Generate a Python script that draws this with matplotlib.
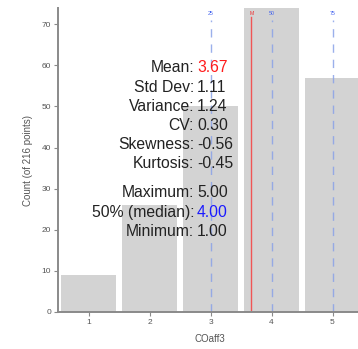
import matplotlib
matplotlib.use("Agg")
import matplotlib.pyplot as plt

# Histogram data for COaff3 (216 responses on a 1-5 scale)
categories = [1, 2, 3, 4, 5]
counts = [9, 26, 50, 74, 57]

# Summary statistics shown in the panel
stat_labels = ["Mean:", "Std Dev:", "Variance:", "CV:", "Skewness:", "Kurtosis:"]
stat_values = [3.67, 1.11, 1.24, 0.30, -0.56, -0.45]
range_labels = ["Maximum:", "50% (median):", "Minimum:"]
range_values = [5.00, 4.00, 1.00]

# Quartile markers
quartile_names = ["25", "50", "75"]
quartile_values = [3, 4, 5]
mean_value = stat_values[0]

W, H = 358, 349
fig = plt.figure(figsize=(W / 100, H / 100), dpi=100)
plt.rcParams["font.family"] = ["Liberation Sans", "DejaVu Sans"]

# Axes placed in pixel terms (left/bottom/right/top)
l, r, t, b = 58, 363, 8, 311.7
ax = fig.add_axes([l / W, 1 - b / H, (r - l) / W, (b - t) / H])

ax.bar(categories, counts, width=0.9, color="#d3d3d3", edgecolor="none", zorder=1)
ax.set_xlim(0.5, 5.5)
ax.set_ylim(0, max(counts))

for name, q in zip(quartile_names, quartile_values):
    ax.plot([q, q], [0, 71.0], color="#8aa2e8", lw=1.0, ls=(0, (6, 5)), alpha=0.85, zorder=2)
    ax.text(q, 72.6, name, color="#4060ee", fontsize=3.8, ha="center", va="center", zorder=3)
ax.plot([mean_value, mean_value], [0, 71.8], color="#f05555", lw=1.0, zorder=2)
ax.text(mean_value, 72.6, "M", color="#ee3333", fontsize=3.8, ha="center", va="center", zorder=3)

for s in ["top", "right"]:
    ax.spines[s].set_visible(False)
for s in ["left", "bottom"]:
    ax.spines[s].set_color("#8a8a8a")
    ax.spines[s].set_linewidth(1.4)

ax.set_xticks(categories)
ax.set_yticks(range(0, 71, 10))
ax.tick_params(axis="both", labelsize=6, colors="#8a8a8a", labelcolor="#555555",
               length=3, width=0.8, pad=2)

fig.text(28 / W, 1 - 160 / H, "Count (of 216 points)", rotation=90, fontsize=7,
         color="#555555", ha="center", va="center")
fig.text(210 / W, 1 - 339 / H, "COaff3", fontsize=7, color="#555555",
         ha="center", va="center")

# Statistics panel text
label_x = 194 / W
value_x = 197 / W
fs = 11.3
value_colors = ["#ff1a1a"] + ["#222222"] * 5
baselines = [72, 92, 111, 130, 149, 168]
for lab, val, yb, c in zip(stat_labels, stat_values, baselines, value_colors):
    fig.text(label_x, 1 - yb / H, lab, fontsize=fs, color="#222222", ha="right", va="baseline", zorder=5)
    fig.text(value_x, 1 - yb / H, f"{val:.2f}", fontsize=fs, color=c, ha="left", va="baseline", zorder=5)

range_colors = ["#222222", "#1a1aff", "#222222"]
baselines2 = [197, 217, 236]
for lab, val, yb, c in zip(range_labels, range_values, baselines2, range_colors):
    fig.text(label_x, 1 - yb / H, lab, fontsize=fs, color="#222222", ha="right", va="baseline", zorder=5)
    fig.text(value_x, 1 - yb / H, f"{val:.2f}", fontsize=fs, color=c, ha="left", va="baseline", zorder=5)

fig.savefig("out.png", dpi=100)
